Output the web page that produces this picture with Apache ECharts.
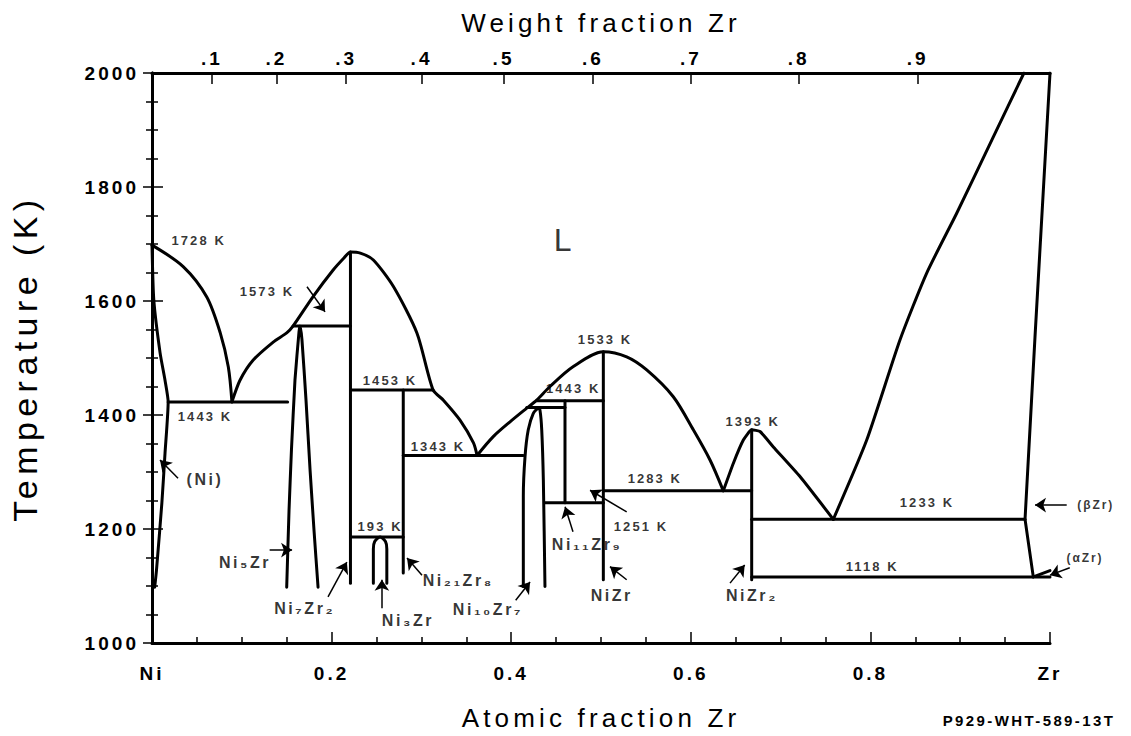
<!DOCTYPE html>
<html>
<head>
<meta charset="utf-8">
<title>Ni-Zr phase diagram</title>
<script src="https://cdn.jsdelivr.net/npm/echarts@6.0.0/dist/echarts.min.js"></script>
<style>
  html, body { margin: 0; padding: 0; background: #fff; }
  #main { width: 1131px; height: 736px; }
  /* the scanned lettering is widely tracked */
  #main svg text { letter-spacing: 0.16em; }
</style>
</head>
<body>
<div id="main"></div>
<script>
// phase boundaries, [atomic fraction Zr, T (K)]
var niLiquidus = [[0, 1698], [0.035, 1660], [0.061, 1607], [0.076, 1544], [0.085, 1484], [0.089, 1423]];
var niSolvus = [[0, 1698], [0.002, 1602], [0.009, 1509], [0.0145, 1461], [0.018, 1423], [0.0145, 1333], [0.011, 1246], [0.005, 1128], [0.003, 1098]];
var ni5zrDome = [[0.150, 1098], [0.1526, 1233], [0.1553, 1339], [0.1592, 1461], [0.1637, 1546], [0.1648, 1556],
    [0.167, 1532], [0.1715, 1426], [0.176, 1304], [0.1804, 1198], [0.1849, 1098]];
var liquidus1 = [[0.089, 1423], [0.098, 1461], [0.1125, 1496], [0.135, 1528], [0.150, 1544], [0.157, 1556],
    [0.179, 1607], [0.2015, 1654], [0.214, 1676], [0.221, 1686], [0.232, 1684], [0.2465, 1672], [0.269, 1625],
    [0.295, 1544], [0.313, 1444], [0.3245, 1426], [0.343, 1391], [0.358, 1351], [0.362, 1329]];
var liquidus2 = [[0.362, 1329], [0.380, 1362], [0.3987, 1388], [0.4173, 1412], [0.4284, 1426], [0.4432, 1450],
    [0.4692, 1485], [0.5026, 1511], [0.5286, 1502], [0.5509, 1479], [0.5805, 1432], [0.6028, 1374],
    [0.6214, 1321], [0.6362, 1267]];
var liquidus3 = [[0.6362, 1267], [0.6473, 1315], [0.6585, 1356], [0.6678, 1374], [0.6771, 1371], [0.6919, 1344],
    [0.7216, 1292], [0.7587, 1217]];
var liquidus4 = [[0.7587, 1217], [0.7959, 1356], [0.833, 1532], [0.8627, 1649], [0.8961, 1754], [0.9369, 1888], [0.971, 2000]];
var ni3zrDome = [[0.2465, 1105], [0.2465, 1165], [0.248, 1178], [0.254, 1186], [0.26, 1178], [0.2615, 1165], [0.2615, 1105]];
var ni10zr7Dome = [[0.4135, 1099], [0.4135, 1257], [0.4154, 1327], [0.419, 1374], [0.4246, 1403], [0.4302, 1412],
    [0.432, 1409], [0.434, 1374], [0.4358, 1286], [0.4376, 1099]];
var betaZr = [[1.0, 2000], [0.9833, 1537], [0.9722, 1217], [0.9814, 1116]];
var alphaZr = [[0.9814, 1116], [1.0, 1127]];

// isotherms and compound lines
var straightLines = [
    [[0.018, 1423], [0.151, 1423]],
    [[0.157, 1556], [0.221, 1556]],
    [[0.221, 1686], [0.221, 1105]],
    [[0.221, 1444], [0.313, 1444]],
    [[0.2798, 1444], [0.2798, 1123]],
    [[0.221, 1186], [0.2798, 1186]],
    [[0.2798, 1329], [0.4135, 1329]],
    [[0.4173, 1413], [0.4599, 1413]],
    [[0.4284, 1425], [0.5026, 1425]],
    [[0.4599, 1425], [0.4599, 1246]],
    [[0.4376, 1246], [0.5026, 1246]],
    [[0.5026, 1511], [0.5026, 1111]],
    [[0.5026, 1267], [0.6678, 1267]],
    [[0.6678, 1374], [0.6678, 1111]],
    [[0.6678, 1217], [0.9722, 1217]],
    [[0.6678, 1116], [1.0, 1116]]
];

// labels
var tempText = ['1728 K', '1573 K', '1443 K', '1453 K', '1343 K', '193 K', '1443 K', '1533 K', '1393 K', '1283 K', '1251 K', '1233 K', '1118 K'];
var tempPos = [[0.052, 1707], [0.128, 1616], [0.059, 1398], [0.265, 1460], [0.3185, 1344], [0.254, 1204], [0.469, 1446],
    [0.5045, 1533], [0.669, 1389], [0.560, 1288], [0.5445, 1205], [0.863, 1246], [0.802, 1135]];
var phaseText = ['(Ni)', 'Ni₅Zr', 'Ni₇Zr₂', 'Ni₃Zr', 'Ni₂₁Zr₈', 'Ni₁₀Zr₇', 'Ni₁₁Zr₉', 'NiZr', 'NiZr₂'];
var phasePos = [[0.059, 1286], [0.1036, 1142], [0.170, 1061], [0.285, 1040], [0.341, 1109], [0.374, 1058],
    [0.4844, 1172], [0.512, 1084], [0.668, 1084]];
var zrText = ['(βZr)', '(αZr)'];
var zrPos = [[1.051, 1242], [1.039, 1149]];

var arrows = [
    [[0.1726, 1625], [0.1927, 1581]],
    [[0.029, 1289], [0.0089, 1321]],
    [[0.131, 1163], [0.156, 1163]],
    [[0.196, 1081], [0.217, 1142]],
    [[0.256, 1061], [0.256, 1111]],
    [[0.3007, 1119], [0.284, 1149]],
    [[0.405, 1075], [0.421, 1107]],
    [[0.5286, 1230], [0.4878, 1268]],
    [[0.4688, 1195], [0.46, 1239]],
    [[0.5286, 1111], [0.51, 1134]],
    [[0.6437, 1105], [0.660, 1137]],
    [[1.0186, 1242], [0.9833, 1242]],
    [[1.022, 1132], [1.0, 1119]]
];

// top axis: weight fraction ticks
var wtTicks = [0.1, 0.2, 0.3, 0.4, 0.5, 0.6, 0.7, 0.8, 0.9];
var wtLabels = ['.1', '.2', '.3', '.4', '.5', '.6', '.7', '.8', '.9'];

function wtToAt(w) {
    var zr = w / 91.224, ni = (1 - w) / 58.693;
    return zr / (zr + ni);
}
var wtPos = wtTicks.map(wtToAt);

var FONT = '"Liberation Sans", Arial, Helvetica, sans-serif';

function curve(data, smooth) {
    return {
        type: 'line', data: data, smooth: smooth, showSymbol: false, symbol: 'none',
        silent: true, animation: false,
        lineStyle: { color: '#000', width: 3, cap: 'round', join: 'round' }
    };
}

function texts(pos, txt, label) {
    var l = { show: true, position: 'inside', formatter: '{b}', color: '#000', fontFamily: FONT };
    for (var k in label) l[k] = label[k];
    return {
        type: 'scatter', symbolSize: 0, clip: false, silent: true, animation: false,
        data: pos.map(function (p, i) { return { value: p, name: txt[i] }; }),
        label: l
    };
}

var series = [];
series.push(curve(niLiquidus, 0.3));
series.push(curve(niSolvus, 0.2));
series.push(curve(ni5zrDome, 0.15));
series.push(curve(liquidus1, 0.25));
series.push(curve(liquidus2, 0.3));
series.push(curve(liquidus3, 0.15));
series.push(curve(liquidus4, 0.2));
series.push(curve(ni3zrDome, 0.3));
series.push(curve(ni10zr7Dome, 0.2));
series.push(curve(betaZr, false));
series.push(curve(alphaZr, false));
straightLines.forEach(function (s) { series.push(curve(s, false)); });

series.push({
    type: 'lines', coordinateSystem: 'cartesian2d', clip: false, silent: true, animation: false,
    symbol: ['none', 'arrow'], symbolSize: 11,
    lineStyle: { color: '#000', width: 1.5, opacity: 1 },
    data: arrows.map(function (a) { return { coords: a }; })
});
series.push(texts(tempPos, tempText, { fontSize: 13, fontWeight: 'bold' }));
series.push(texts(phasePos, phaseText, { fontSize: 16, fontWeight: 'bold' }));
series.push(texts(zrPos, zrText, { fontSize: 12, fontWeight: 'bold' }));
series.push(texts([[0.46, 1707]], ['L'], { fontSize: 32 }));

var chart = echarts.init(document.getElementById('main'), null, { renderer: 'svg' });

var axisLine = { lineStyle: { color: '#000', width: 3 } };
var tickStyle = { color: '#000', width: 1.5 };

chart.setOption({
    backgroundColor: '#fff',
    animation: false,
    grid: { left: 152, right: 81, top: 73, bottom: 93, outerBoundsMode: 'none', containLabel: false },
    xAxis: [{
        type: 'value', min: 0, max: 1, interval: 0.2,
        name: 'Atomic fraction Zr', nameLocation: 'middle', nameGap: 62, nameMoveOverlap: false,
        nameTextStyle: { fontSize: 26, color: '#000', fontFamily: FONT },
        axisLine: axisLine,
        axisTick: { inside: true, length: 11, lineStyle: tickStyle },
        minorTick: { show: true, splitNumber: 4, length: 6, lineStyle: tickStyle },
        axisLabel: {
            margin: 21, fontSize: 19, fontWeight: 'bold', color: '#000', fontFamily: FONT,
            formatter: function (v) {
                if (Math.abs(v) < 1e-9) return 'Ni';
                if (Math.abs(v - 1) < 1e-9) return 'Zr';
                return v.toFixed(1);
            }
        },
        splitLine: { show: false }
    }, {
        type: 'value', position: 'top', min: 0, max: 1,
        name: 'Weight fraction Zr', nameLocation: 'middle', nameGap: 37, nameMoveOverlap: false,
        nameTextStyle: { fontSize: 26, color: '#000', fontFamily: FONT },
        axisLine: axisLine,
        axisTick: { inside: true, length: 11, customValues: wtPos, lineStyle: tickStyle },
        axisLabel: {
            margin: 5, fontSize: 19, fontWeight: 'bold', color: '#000', fontFamily: FONT,
            customValues: wtPos,
            formatter: function (v) {
                for (var i = 0; i < wtPos.length; i++) {
                    if (Math.abs(wtPos[i] - v) < 1e-6) return wtLabels[i];
                }
                return '';
            }
        },
        splitLine: { show: false }
    }],
    yAxis: [{
        type: 'value', min: 1000, max: 2000, interval: 200,
        name: 'Temperature (K)', nameLocation: 'middle', nameGap: 110, nameRotate: 90, nameMoveOverlap: false,
        nameTextStyle: { fontSize: 34, color: '#000', fontFamily: FONT },
        axisLine: axisLine,
        axisTick: { inside: true, length: 11, lineStyle: tickStyle },
        minorTick: { show: true, splitNumber: 4, length: 6, lineStyle: tickStyle },
        axisLabel: {
            margin: 13, fontSize: 19, fontWeight: 'bold', color: '#000', fontFamily: FONT,
            formatter: function (v) { return String(v); }
        },
        splitLine: { show: false }
    }, {
        type: 'value', position: 'right', min: 1000, max: 2000, interval: 200,
        axisLine: axisLine,
        axisTick: { inside: true, length: 9, lineStyle: tickStyle },
        minorTick: { show: true, splitNumber: 4, length: 6, lineStyle: tickStyle },
        axisLabel: { show: false },
        splitLine: { show: false }
    }],
    graphic: [{
        type: 'text', x: 1029, y: 720, silent: true,
        style: {
            text: 'P929-WHT-589-13T', fill: '#000', align: 'center', verticalAlign: 'middle',
            font: 'bold 15px ' + FONT
        }
    }],
    series: series
});
</script>
</body>
</html>
